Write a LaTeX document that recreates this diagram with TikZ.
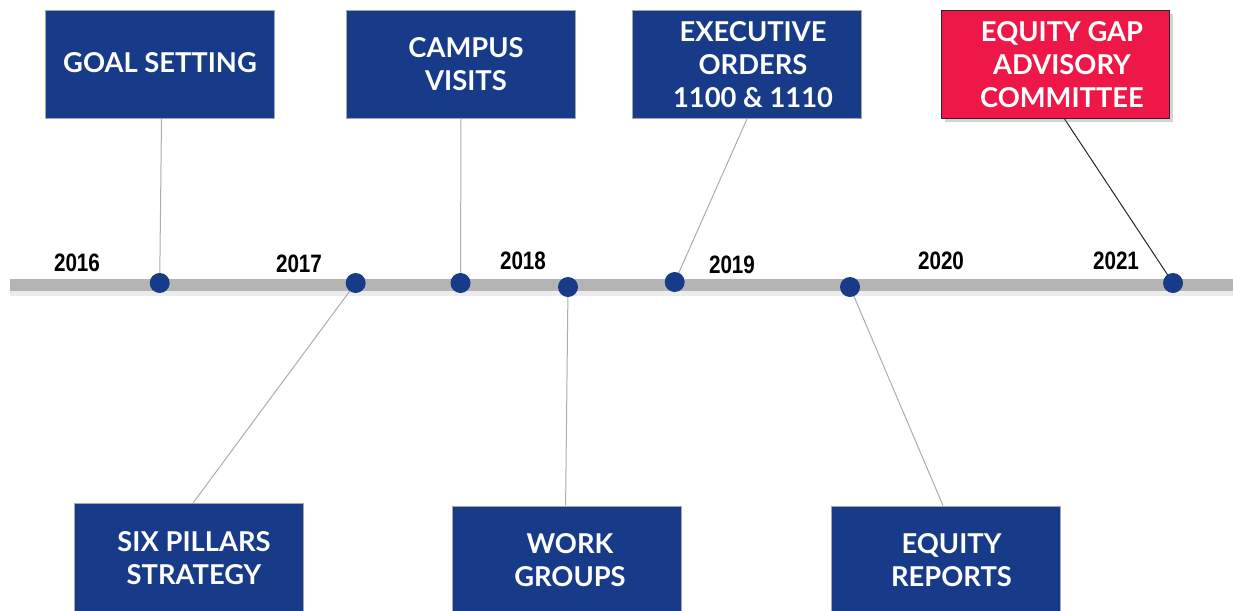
\documentclass[tikz,border=0pt]{standalone}
\usepackage{fontspec}
\newfontfamily\boxfont{Lato}
\newfontfamily\yearfont{Liberation Sans}
\usetikzlibrary{calc,shadows,backgrounds}
\definecolor{tlblue}{RGB}{23,59,137}
\definecolor{tlred}{RGB}{238,24,72}
\definecolor{tlgrey}{RGB}{180,180,180}
\begin{document}
\begin{tikzpicture}[x=0.75pt,y=-0.75pt,
 box/.style={fill=tlblue, draw=gray!70, line width=0.6pt, minimum width=171.5pt, minimum height=81pt, inner sep=0pt},
 redbox/.style={box, fill=tlred, draw=black!85, drop shadow={shadow xshift=2.5pt,shadow yshift=-2.5pt,opacity=0.35}},
 btext/.style={text=white, font=\boxfont\bfseries\fontsize{20.5pt}{24.75pt}\selectfont, align=center, inner sep=0pt},
 year/.style={font=\yearfont\bfseries\fontsize{18.9pt}{20pt}\selectfont, inner sep=0pt},
 dot/.style={circle, fill=tlblue, minimum size=15pt, inner sep=0pt},
 conn/.style={draw=gray!65, line width=0.75pt},
 darkconn/.style={draw=black!85, line width=0.75pt},
]
\useasboundingbox (0,0) rectangle (1233,611);

% boxes
\node[box] (goal) at (160,64.5) {};
\node[box] (campus) at (461,64.5) {};
\node[box] (exec) at (747,64.5) {};
\node[redbox] (gap) at (1055.5,64.5) {};
\node[box] (six) at (189,557.5) {};
\node[box] (work) at (567,560) {};
\node[box] (reports) at (946,560) {};

\node[btext] (goalt) at (160,63) {GOAL SETTING};
\node[btext] (campust) at (466,64.5) {CAMPUS\\VISITS};
\node[btext] (exect) at (753,64.5) {EXECUTIVE\\ORDERS\\1100 \& 1110};
\node[btext] (gapt) at (1062,64.5) {EQUITY GAP\\ADVISORY\\COMMITTEE};
\node[btext] (sixt) at (194,558) {SIX PILLARS\\STRATEGY};
\node[btext] (workt) at (570,560.5) {WORK\\GROUPS};
\node[btext] (reportst) at (951.5,560.5) {EQUITY\\REPORTS};

% dots
\node[dot] (d1) at (159.7,283) {};
\node[dot] (d2) at (355.7,283) {};
\node[dot] (d3) at (460.5,283) {};
\node[dot] (d4) at (568,287) {};
\node[dot] (d5) at (674.7,282) {};
\node[dot] (d6) at (850,287) {};
\node[dot] (d7) at (1173,283) {};

% years
\node[year] (y16) at (77,263) {\scalebox{0.82}[1]{2016}};
\node[year] (y17) at (299,264) {\scalebox{0.82}[1]{2017}};
\node[year] (y18) at (523,261) {\scalebox{0.82}[1]{2018}};
\node[year] (y19) at (732,265) {\scalebox{0.82}[1]{2019}};
\node[year] (y20) at (941,261) {\scalebox{0.82}[1]{2020}};
\node[year] (y21) at (1116,261) {\scalebox{0.82}[1]{2021}};

\begin{scope}[on background layer]
 \coordinate (barL) at (10,285);
 \coordinate (barR) at (1233,285);
 \draw[line width=10pt, draw=gray!15] ($(barL)+(0,4)$) -- ($(barR)+(0,4)$);
 \draw[line width=9.5pt, draw=tlgrey] (barL) -- (barR);
 \draw[conn] ($(goal.south)+(1.5,0)$) -- (d1.center);
 \draw[conn] (campus.south) -- (d3.center);
 \draw[conn] (exec.south) -- (d5.center);
 \draw[darkconn] ($(gap.south)+(9,0)$) -- (d7.center);
 \draw[conn] (d2.center) -- ($(six.north)+(4,0)$);
 \draw[conn] (d4.center) -- ($(work.north)+(-1.4,0)$);
 \draw[conn] (d6.center) -- ($(reports.north)+(-3,0)$);
\end{scope}
\end{tikzpicture}
\end{document}
